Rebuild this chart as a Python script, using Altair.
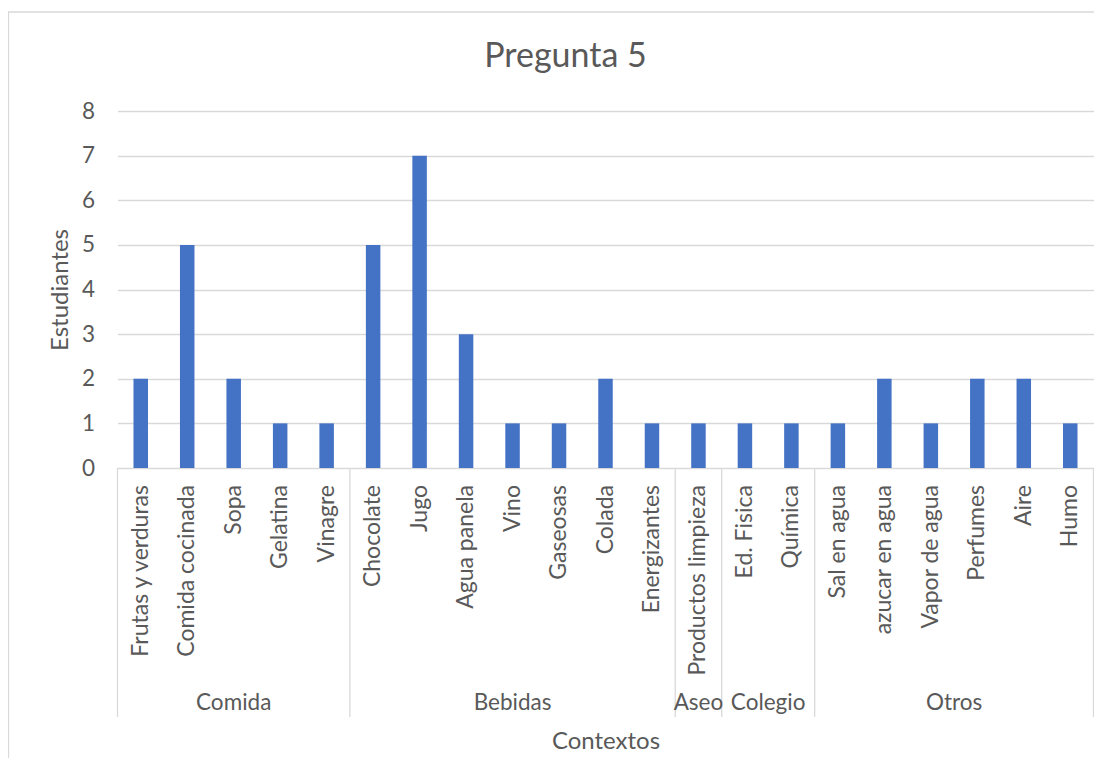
import altair as alt
import pandas as pd

categories = ["Frutas y verduras", "Comida cocinada", "Sopa", "Gelatina", "Vinagre",
              "Chocolate", "Jugo", "Agua panela", "Vino", "Gaseosas", "Colada", "Energizantes",
              "Productos limpieza",
              "Ed. Fisica", "Química",
              "Sal en agua", "azucar en agua", "Vapor de agua", "Perfumes", "Aire", "Humo"]
values = [2, 5, 2, 1, 1,
          5, 7, 3, 1, 1, 2, 1,
          1,
          1, 1,
          1, 2, 1, 2, 2, 1]
groups = ["Comida", "Bebidas", "Aseo", "Colegio", "Otros"]
group_sizes = [5, 7, 1, 2, 6]

FONT = "Lato"
TXT = "#595959"
GRID = "#D9D9D9"
BAR = "#4472C4"
W, H = 976, 357
FS = 22.5
TFS = 24

df = pd.DataFrame({"idx": list(range(len(categories))), "cat": categories, "val": values})

starts, ends = [], []
s = 0
for n in group_sizes:
    starts.append(s - 0.5)
    ends.append(s + n - 0.5)
    s += n
gdf = pd.DataFrame({"group": groups, "start": starts, "end": ends,
                    "mid": [(a + b) / 2 for a, b in zip(starts, ends)]})
bdf = pd.DataFrame({"pos": [starts[0]] + ends})

xscale = alt.Scale(domain=[-0.5, len(categories) - 0.5], nice=False, zero=False, padding=0)

border = alt.Chart(pd.DataFrame({"a": [0]})).mark_rect(
    fill="white", fillOpacity=0, stroke=GRID, strokeWidth=1.3
).encode(x=alt.value(-109), x2=alt.value(W + 40), y=alt.value(-99), y2=alt.value(H + 320))

bars = alt.Chart(df).mark_bar(color=BAR, size=14.5).encode(
    x=alt.X("idx:Q", scale=xscale,
            axis=alt.Axis(labels=False, ticks=False, domain=False, grid=False,
                          title="Contextos", titleFont=FONT, titleFontSize=TFS,
                          titleFontWeight="normal", titleColor=TXT,
                          titleX=W / 2, titleY=273, titleBaseline="middle")),
    y=alt.Y("val:Q", scale=alt.Scale(domain=[0, 8], nice=False),
            axis=alt.Axis(values=list(range(9)), grid=True, gridColor=GRID, gridWidth=1.3,
                          ticks=False, domain=False, labelFont=FONT, labelFontSize=FS,
                          labelColor=TXT, labelPadding=23,
                          title="Estudiantes", titleFont=FONT, titleFontSize=TFS,
                          titleFontWeight="normal", titleColor=TXT,
                          titleX=-57.5, titleY=H / 2, titleAngle=270,
                          titleAlign="center", titleBaseline="middle")),
)

labels = alt.Chart(df).mark_text(
    angle=270, align="right", baseline="middle", font=FONT, fontSize=23, color=TXT
).encode(x=alt.X("idx:Q", scale=xscale), y=alt.value(374), text="cat:N")

seps = alt.Chart(bdf).mark_rule(color=GRID, strokeWidth=1.3).encode(
    x=alt.X("pos:Q", scale=xscale), y=alt.value(H), y2=alt.value(606)
)

glabels = alt.Chart(gdf).mark_text(
    baseline="middle", font=FONT, fontSize=FS, color=TXT
).encode(x=alt.X("mid:Q", scale=xscale), y=alt.value(592), text="group:N")

chart = alt.layer(border, bars, labels, seps, glabels).properties(
    width=W, height=H,
    title=alt.TitleParams("Pregunta 5", font=FONT, fontSize=34, fontWeight="normal",
                          color=TXT, anchor="middle", frame="group", dx=-40,
                          baseline="alphabetic", offset=-90),
    autosize=alt.AutoSizeParams(type="none"),
    padding={"left": 109.5, "top": 103, "right": 0, "bottom": 290},
).configure_view(stroke=None)

chart.save("out.html", embed_options={"renderer": "svg", "actions": False})
